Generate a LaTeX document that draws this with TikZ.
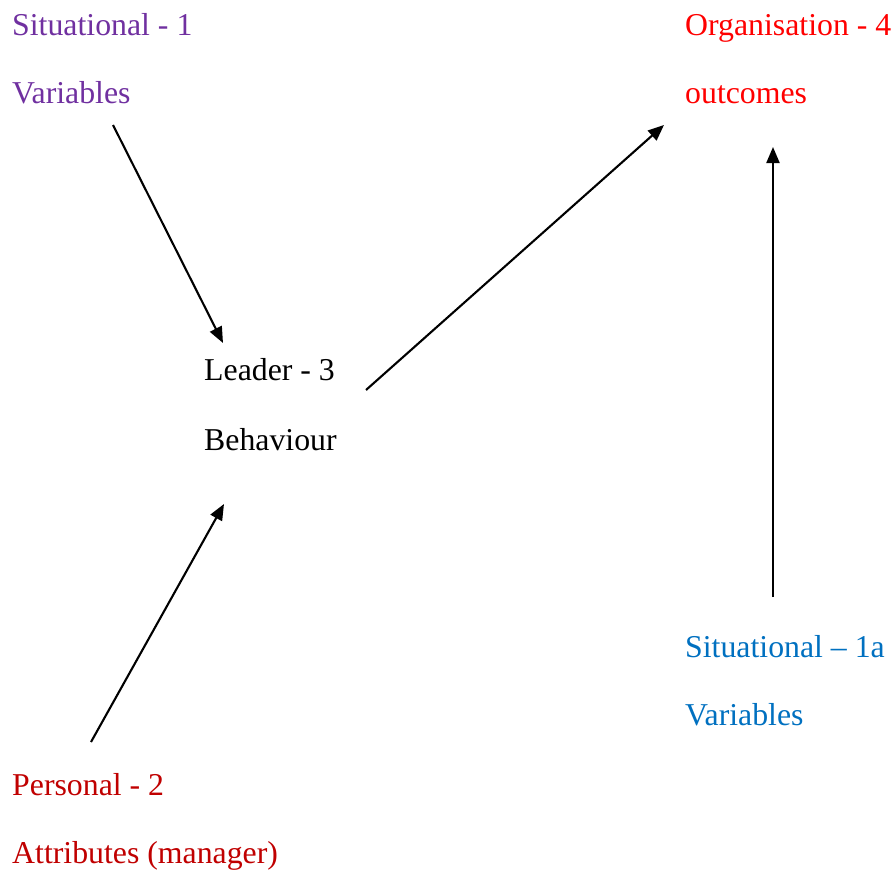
\documentclass[tikz,border=0pt]{standalone}
\usepackage{fontspec}
\setmainfont{Liberation Serif}
\usetikzlibrary{arrows.meta}
\definecolor{cpurple}{HTML}{7030A0}
\definecolor{cred}{HTML}{FF0000}
\definecolor{cdarkred}{HTML}{C00000}
\definecolor{cblue}{HTML}{0070C0}
\tikzset{
  lbl/.style={anchor=base west,inner sep=0pt,font=\fontsize{31.8}{36}\selectfont},
  conn/.style={line width=2.1pt,-{Triangle[length=16pt,width=13pt]}}
}
\begin{document}
\begin{tikzpicture}[x=1pt,y=-1pt]
\useasboundingbox (0,0) rectangle (895,870);
% labels
\node[lbl,text=cpurple] (s1a) at (12,35) {Situational - 1};
\node[lbl,text=cpurple] (s1b) at (12,103) {Variables};
\node[lbl,text=cred] (o4a) at (685,35) {Organisation - 4};
\node[lbl,text=cred] (o4b) at (685,103) {outcomes};
\node[lbl] (l3a) at (204,380) {Leader - 3};
\node[lbl] (l3b) at (204,450) {Behaviour};
\node[lbl,text=cblue] (s1aa) at (685,657) {Situational – 1a};
\node[lbl,text=cblue] (s1ab) at (685,725) {Variables};
\node[lbl,text=cdarkred] (p2a) at (12,795) {Personal - 2};
\node[lbl,text=cdarkred] (p2b) at (12,863) {Attributes (manager)};
% connector ends
\coordinate (a1s) at (113,125);
\coordinate (a1e) at (223,343);
\coordinate (a2s) at (366,390);
\coordinate (a2e) at (664,125);
\coordinate (a3s) at (91,742);
\coordinate (a3e) at (224,504);
\coordinate (a4s) at (773,597);
\coordinate (a4e) at (773,147);
\draw[conn] (a1s) -- (a1e);
\draw[conn] (a2s) -- (a2e);
\draw[conn] (a3s) -- (a3e);
\draw[conn] (a4s) -- (a4e);
\end{tikzpicture}
\end{document}
